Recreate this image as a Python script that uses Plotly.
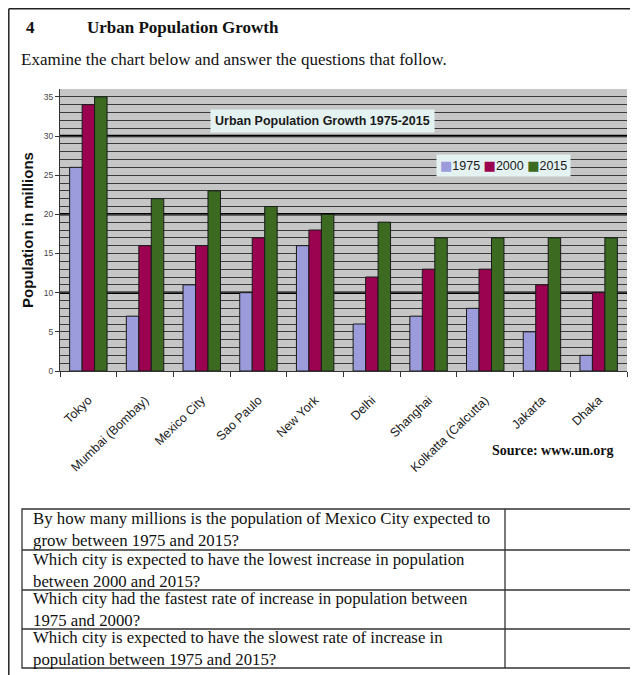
import plotly.graph_objects as go

cities = ["Tokyo", "Mumbai (Bombay)", "Mexico City", "Sao Paulo", "New York",
          "Delhi", "Shanghai", "Kolkatta (Calcutta)", "Jakarta", "Dhaka"]
pop_1975 = [26, 7, 11, 10, 16, 6, 7, 8, 5, 2]
pop_2000 = [34, 16, 16, 17, 18, 12, 13, 13, 11, 10]
pop_2015 = [35, 22, 23, 21, 20, 19, 17, 17, 17, 17]
series_names = ["1975", "2000", "2015"]
series_colors = ["#9c9cdc", "#9b0350", "#3b6a20"]
y_ticks = [0, 5, 10, 15, 20, 25, 30, 35]
thick_lines = [10, 20, 30]
questions = [
    "By how many millions is the population of Mexico City expected to<br>grow between 1975 and 2015?",
    "Which city is expected to have the lowest increase in population<br>between 2000 and 2015?",
    "Which city had the fastest rate of increase in population between<br>1975 and 2000?",
    "Which city is expected to have the slowest rate of increase in<br>population between 1975 and 2015?",
]

# page body has an 8px margin: lay out in figure pixels = page pixels - 8
OFF = 8
W, H = 630, 667
L, R, T, B = 52, 11, 81, 304
PW, PH = W - L - R, H - T - B


def px(x):
    return (x - OFF - L) / PW


def py(y):
    return (H - B - (y - OFF)) / PH


fig = go.Figure()
for name, vals, col in zip(series_names, [pop_1975, pop_2000, pop_2015], series_colors):
    fig.add_trace(go.Bar(x=cities, y=vals, name=name, showlegend=False,
                         marker=dict(color=col, line=dict(color="#1a1a1a", width=1))))

shapes = []
for v in thick_lines:
    shapes.append(dict(type="line", xref="paper", yref="y", x0=0, x1=1, y0=v, y1=v,
                       line=dict(color="#000000", width=2.5), layer="between"))
# page border (left and top)
shapes.append(dict(type="line", xref="paper", yref="paper", x0=px(8.8), x1=px(8.8), y0=py(8.8), y1=py(700),
                   line=dict(color="#222", width=1.5)))
shapes.append(dict(type="line", xref="paper", yref="paper", x0=px(8.8), x1=px(700), y0=py(8.8), y1=py(8.8),
                   line=dict(color="#222", width=1.5)))
# table
tl, tr, tc = 22, 633, 505
rows_y = [509, 550, 590, 629, 668]
shapes.append(dict(type="rect", xref="paper", yref="paper", x0=px(tl), x1=px(tr),
                   y0=py(rows_y[0]), y1=py(rows_y[-1]), line=dict(color="#333", width=1.3)))
for yy in rows_y[1:-1]:
    shapes.append(dict(type="line", xref="paper", yref="paper", x0=px(tl), x1=px(tr),
                       y0=py(yy), y1=py(yy), line=dict(color="#333", width=1.3)))
shapes.append(dict(type="line", xref="paper", yref="paper", x0=px(tc), x1=px(tc),
                   y0=py(rows_y[0]), y1=py(rows_y[-1]), line=dict(color="#333", width=1.3)))

serif = "Liberation Serif, Times New Roman, serif"
sans = "Liberation Sans, Arial, sans-serif"
ann = []
ann.append(dict(text="<b>4</b>", x=px(24), y=py(28), xref="paper", yref="paper",
                xanchor="left", yanchor="middle", showarrow=False,
                font=dict(family=serif, size=17, color="#111")))
ann.append(dict(text="<b>Urban Population Growth</b>", x=px(85), y=py(28), xref="paper", yref="paper",
                xanchor="left", yanchor="middle", showarrow=False,
                font=dict(family=serif, size=17, color="#111")))
ann.append(dict(text="Examine the chart below and answer the questions that follow.", x=px(19), y=py(60),
                xref="paper", yref="paper", xanchor="left", yanchor="middle", showarrow=False,
                font=dict(family=serif, size=17, color="#111")))
ann.append(dict(text="<b>Urban Population Growth 1975-2015</b>", x=px(322), y=py(121),
                xref="paper", yref="paper", xanchor="center", yanchor="middle", showarrow=False,
                bgcolor="#e4f2f2", borderpad=4,
                font=dict(family=sans, size=12.5, color="#1a1a1a")))
legend_text = " ".join(
    f"<span style='color:{c};font-family:DejaVu Sans;font-size:13px'>■</span>{n}"
    for n, c in zip(series_names, series_colors))
ann.append(dict(text=legend_text, x=px(503.5), y=py(165),
                xref="paper", yref="paper", xanchor="center", yanchor="middle", showarrow=False,
                bgcolor="#e4f2f2", borderpad=3,
                font=dict(family=sans, size=12.5, color="#1a1a1a")))
ann.append(dict(text="<b>Source: www.un.org</b>", x=px(490), y=py(450),
                xref="paper", yref="paper", xanchor="left", yanchor="middle", showarrow=False,
                font=dict(family=serif, size=14, color="#111")))
for i, q in enumerate(questions):
    ann.append(dict(text=q, x=px(31), y=py((rows_y[i] + rows_y[i + 1]) / 2),
                    xref="paper", yref="paper", xanchor="left", yanchor="middle", align="left",
                    showarrow=False, font=dict(family=serif, size=16.8, color="#111")))

fig.update_layout(
    width=W, height=H,
    margin=dict(l=L, r=R, t=T, b=B),
    paper_bgcolor="white", plot_bgcolor="#c6c6c6",
    barmode="group", bargap=0.34, bargroupgap=0,
    showlegend=False,
    shapes=shapes, annotations=ann,
    xaxis=dict(showgrid=False, showline=True, linecolor="#333", linewidth=1,
               ticks="outside", tickson="boundaries", ticklen=5, tickcolor="#333",
               tickangle=-44, ticklabelstandoff=16,
               tickfont=dict(family=sans, size=12.5, color="#222")),
    yaxis=dict(range=[0, 36], tickvals=y_ticks, showgrid=False, zeroline=False,
               showline=True, linecolor="#333", linewidth=1,
               ticks="outside", ticklen=4, tickcolor="#333",
               tickfont=dict(family=sans, size=8.5, color="#444"),
               minor=dict(dtick=1, showgrid=True, gridcolor="#3a3a3a", gridwidth=1),
               title=dict(text="<b>Population in millions</b>", standoff=6,
                          font=dict(family=sans, size=15, color="#111"))),
)

fig.write_html("out.html")
